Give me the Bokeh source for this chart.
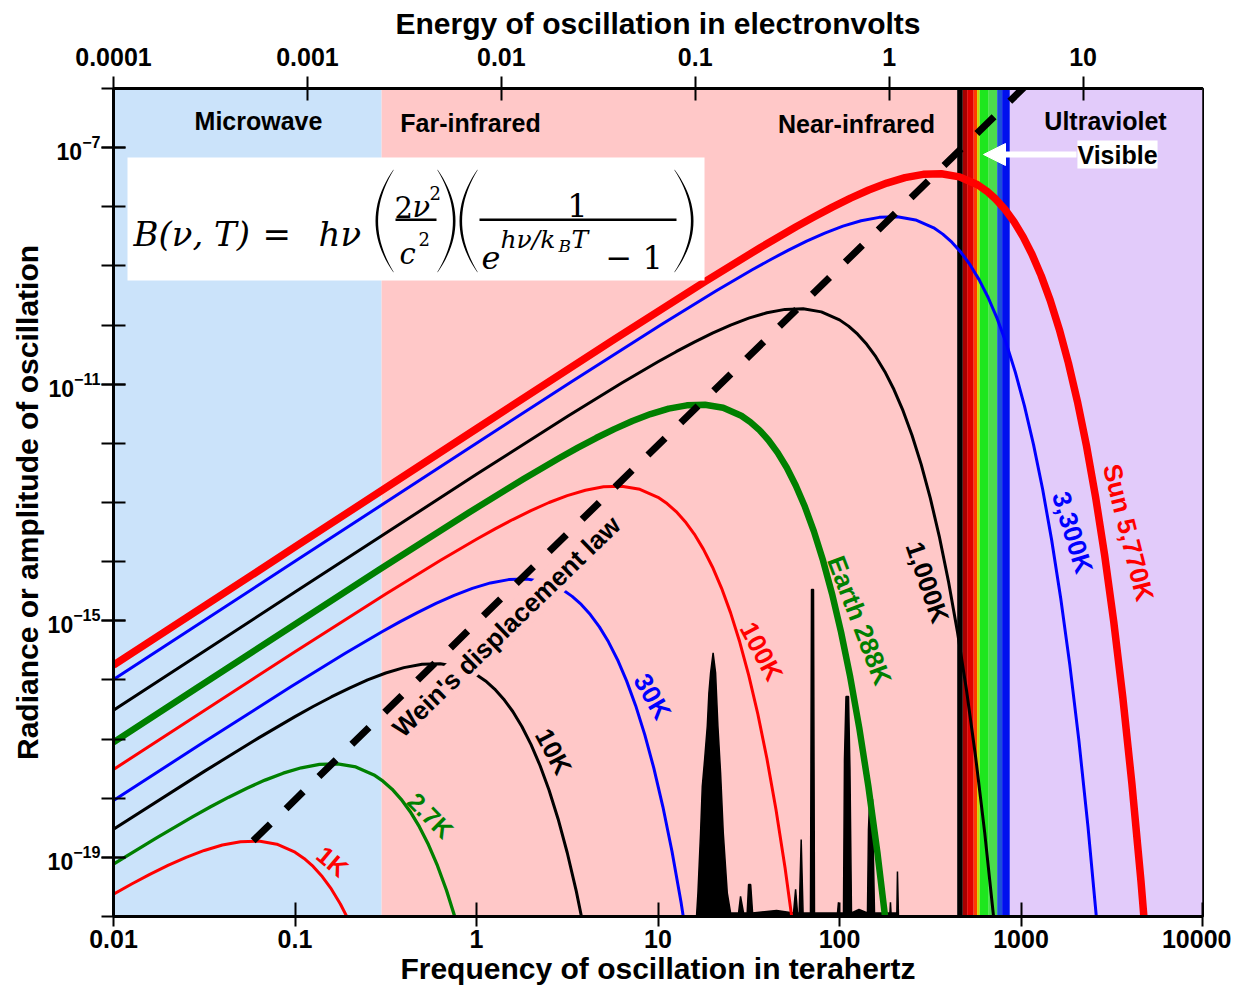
import math
from bokeh.plotting import figure
from bokeh.models import (Range1d, LogAxis, LogScale, FixedTicker, Label,
                          BoxAnnotation, Arrow, NormalHead, PolyAnnotation)
from bokeh.embed import file_html
from bokeh.resources import INLINE

# ---------------- axes ----------------
freq_range = (0.01, 10000.0)          # THz (bottom axis)
rad_range = (1e-20, 1e-6)             # radiance (left axis)
energy_range = (1e-4, 41.3)           # eV (top axis as drawn in the chart)
freq_ticks = [0.01, 0.1, 1.0, 10.0, 100.0, 1000.0, 10000.0]
freq_tick_labels = ["0.01", "0.1", "1", "10", "100", "1000", "10000"]
energy_ticks = [0.0001, 0.001, 0.01, 0.1, 1.0, 10.0]
energy_tick_labels = ["0.0001", "0.001", "0.01", "0.1", "1", "10"]
rad_ticks = [1e-19, 1e-15, 1e-11, 1e-7]
rad_minor_ticks = [1e-20, 1e-19, 1e-18, 1e-17, 1e-16, 1e-15, 1e-14, 1e-13,
                   1e-12, 1e-11, 1e-10, 1e-9, 1e-8, 1e-7, 1e-6]

# ---------------- spectral regions (THz) ----------------
band_left = [0.01, 0.3, 867.0]
band_right = [0.3, 445.0, 10000.0]
band_colors = ["#cbe3fa", "#ffc8c8", "#e2cbfa"]
visible_edges = [445.0, 478.0, 505.0, 549.0, 573.0, 592.0, 664.0, 739.0, 787.0, 867.0]
visible_colors = ["#000000", "#a80000", "#e00000", "#ff3a00", "#c8d800",
                  "#1ee61e", "#4cdc4c", "#1a50d8", "#0010ee"]

# ---------------- black-body curves: log10(freq THz), log10(radiance) ----------------
k1_logf = [-2.0, -1.9, -1.8, -1.7, -1.6, -1.5, -1.4, -1.3, -1.2, -1.1, -1.0, -0.95,
           -0.9, -0.85, -0.8, -0.75, -0.7]
k1_logB = [-19.621, -19.450, -19.288, -19.137, -19.000, -18.883, -18.792, -18.735,
           -18.725, -18.777, -18.912, -19.018, -19.154, -19.325, -19.534, -19.788, -20.090]

k2_7_logf = [-2.0, -1.765, -1.565, -1.465, -1.365, -1.265, -1.165, -1.065, -0.965, -0.865,
             -0.765, -0.665, -0.565, -0.515, -0.465, -0.415, -0.365, -0.315, -0.265,
             -0.215, -0.165, -0.115]
k2_7_logB = [-19.116, -18.674, -18.315, -18.144, -17.982, -17.831, -17.694, -17.577,
             -17.485, -17.429, -17.419, -17.471, -17.606, -17.712, -17.848, -18.019,
             -18.228, -18.481, -18.784, -19.141, -19.560, -20.049]

k10_logf = [-2.0, -1.5, -1.2, -1.0, -0.9, -0.8, -0.7, -0.6, -0.5, -0.4, -0.3, -0.2, -0.1,
            0.0, 0.05, 0.1, 0.15, 0.2, 0.25, 0.3, 0.35, 0.4, 0.45, 0.5, 0.55, 0.6]
k10_logB = [-18.523, -17.546, -16.980, -16.621, -16.450, -16.288, -16.137, -16.000,
            -15.883, -15.792, -15.735, -15.725, -15.777, -15.912, -16.018, -16.154,
            -16.325, -16.534, -16.788, -17.090, -17.447, -17.866, -18.355, -18.922,
            -19.576, -20.329]

k30_logf = [-2.0, -1.523, -1.023, -0.723, -0.523, -0.423, -0.323, -0.223, -0.123, -0.023,
            0.077, 0.177, 0.277, 0.377, 0.477, 0.527, 0.577, 0.627, 0.677, 0.727,
            0.777, 0.827, 0.877, 0.927, 0.977, 1.027, 1.077, 1.127, 1.177]
k30_logB = [-18.039, -17.092, -16.115, -15.549, -15.190, -15.019, -14.857, -14.706,
            -14.569, -14.452, -14.360, -14.304, -14.294, -14.346, -14.481, -14.587,
            -14.723, -14.894, -15.103, -15.356, -15.658, -16.016, -16.435, -16.924,
            -17.491, -18.145, -18.897, -19.760, -20.746]

k100_logf = [-2.0, -1.0, -0.5, -0.2, 0.0, 0.1, 0.2, 0.3, 0.4, 0.5, 0.6, 0.7, 0.8, 0.9,
             1.0, 1.05, 1.1, 1.15, 1.2, 1.25, 1.3, 1.35, 1.4, 1.45, 1.5, 1.55, 1.6,
             1.65, 1.7, 1.75]
k100_logB = [-17.514, -15.523, -14.546, -13.980, -13.621, -13.450, -13.288, -13.137,
             -13.000, -12.883, -12.792, -12.735, -12.725, -12.777, -12.912, -13.018,
             -13.154, -13.325, -13.534, -13.788, -14.090, -14.447, -14.866, -15.355,
             -15.922, -16.576, -17.329, -18.191, -19.177, -20.302]

k288_logf = [-2.0, -1.541, -0.541, -0.041, 0.259, 0.459, 0.559, 0.659, 0.759, 0.859,
             0.959, 1.059, 1.159, 1.259, 1.359, 1.459, 1.509, 1.559, 1.609, 1.659,
             1.709, 1.759, 1.809, 1.859, 1.909, 1.959, 2.009, 2.059, 2.109, 2.159,
             2.209, 2.259]
k288_logB = [-17.054, -16.135, -14.145, -13.168, -12.602, -12.243, -12.072, -11.910,
             -11.759, -11.622, -11.505, -11.413, -11.357, -11.347, -11.399, -11.534,
             -11.640, -11.776, -11.947, -12.156, -12.409, -12.712, -13.069, -13.488,
             -13.977, -14.544, -15.198, -15.950, -16.813, -17.799, -18.923, -20.204]

k1000_logf = [-2.0, -1.0, 0.0, 0.5, 0.8, 1.0, 1.1, 1.2, 1.3, 1.4, 1.5, 1.6, 1.7, 1.8,
              1.9, 2.0, 2.05, 2.1, 2.15, 2.2, 2.25, 2.3, 2.35, 2.4, 2.45, 2.5, 2.55,
              2.6, 2.65, 2.7, 2.75, 2.8, 2.85]
k1000_logB = [-16.513, -14.514, -12.523, -11.546, -10.980, -10.621, -10.450, -10.288,
              -10.137, -10.000, -9.883, -9.792, -9.735, -9.725, -9.777, -9.912, -10.018,
              -10.154, -10.325, -10.534, -10.788, -11.090, -11.447, -11.866, -12.355,
              -12.922, -13.576, -14.329, -15.191, -16.177, -17.302, -18.582, -20.036]

k3300_logf = [-2.0, -0.981, 0.019, 0.519, 1.019, 1.319, 1.519, 1.619, 1.719, 1.819,
              1.919, 2.019, 2.119, 2.219, 2.319, 2.419, 2.519, 2.569, 2.619, 2.669,
              2.719, 2.769, 2.819, 2.869, 2.919, 2.969, 3.019, 3.069, 3.119, 3.169,
              3.219, 3.269, 3.319, 3.369, 3.419]
k3300_logB = [-15.994, -13.957, -11.960, -10.967, -9.990, -9.424, -9.065, -8.895,
              -8.733, -8.581, -8.445, -8.327, -8.236, -8.179, -8.169, -8.222, -8.356,
              -8.462, -8.599, -8.769, -8.979, -9.232, -9.534, -9.892, -10.311, -10.800,
              -11.367, -12.021, -12.773, -13.636, -14.622, -15.746, -17.026, -18.481,
              -20.131]

sun_logf = [-2.0, -1.0, 0.0, 0.761, 1.261, 1.561, 1.761, 1.861, 1.961, 2.061, 2.161,
            2.261, 2.361, 2.461, 2.561, 2.661, 2.761, 2.811, 2.861, 2.911, 2.961,
            3.011, 3.061, 3.111, 3.161, 3.211, 3.261, 3.311, 3.361, 3.411, 3.461,
            3.511, 3.561, 3.611, 3.661, 3.711]
sun_logB = [-15.751, -13.752, -11.753, -10.239, -9.262, -8.696, -8.337, -8.167, -8.005,
            -7.853, -7.717, -7.599, -7.508, -7.451, -7.441, -7.494, -7.628, -7.734,
            -7.871, -8.041, -8.251, -8.504, -8.806, -9.164, -9.583, -10.072, -10.639,
            -11.293, -12.045, -12.908, -13.894, -15.018, -16.298, -17.753, -19.403,
            -21.273]

# Wien displacement line (through the peaks)
wien_freq = [0.0588, 1260.0]
wien_logB = [-18.72, -5.73]

# black emission spectrum at the bottom
spec_freq = [16.3, 16.6, 17.16, 17.54, 18.06, 18.69, 19.07, 19.49, 20.12, 20.76, 21.38,
             22.12, 22.89, 24.08, 25.11, 27.8, 28.5, 29.6, 31.0, 31.55, 32.4, 33.2,
             45.0, 55.8, 57.3, 58.7, 60.0, 61.5, 63.0, 69.2, 70.1, 71.9, 72.8, 97.5,
             98.7, 99.9, 105.2, 106.5, 108.6, 112.1, 114.2, 116.4, 128.0, 142.6, 144.4,
             147.2, 152.0, 153.9, 155.9, 189.5, 190.9, 192.3, 207.0, 208.6, 211.3]
spec_logB = [-20.0, -19.60, -18.59, -17.80, -17.35, -16.78, -16.22, -15.88, -15.54,
             -15.88, -16.78, -17.57, -18.59, -19.60, -19.94, -19.94, -19.66, -19.94,
             -19.94, -19.46, -19.46, -19.94, -19.90, -19.94, -19.54, -19.94, -19.94,
             -18.70, -19.94, -19.94, -14.47, -14.47, -19.94, -19.94, -19.76, -19.94,
             -19.94, -17.35, -16.28, -16.28, -17.52, -19.94, -19.88, -19.94, -18.53,
             -17.89, -18.02, -19.04, -19.94, -19.94, -19.76, -19.94, -19.94, -19.24,
             -20.0]


def pw(vals):
    return [10.0 ** v for v in vals]


FONT = "Liberation Sans"

p = figure(width=1231, height=987, x_axis_type="log", y_axis_type="log",
           x_range=Range1d(*freq_range), y_range=Range1d(*rad_range),
           output_backend="svg", toolbar_location=None,
           min_border_left=113, min_border_right=29, min_border_top=88,
           min_border_bottom=71)
p.extra_x_ranges = {"energy": Range1d(*energy_range)}
p.extra_x_scales = {"energy": LogScale()}
p.xgrid.visible = False
p.ygrid.visible = False
p.outline_line_color = "black"
p.outline_line_width = 3
p.outline_line_alpha = 1.0
p.background_fill_color = "white"
p.border_fill_color = "white"

# backgrounds
p.quad(left=band_left, right=band_right, bottom=[rad_range[0]] * 3,
       top=[rad_range[1]] * 3, fill_color=band_colors, line_color=None)
p.quad(left=visible_edges[:-1], right=visible_edges[1:],
       bottom=[rad_range[0]] * len(visible_colors), top=[rad_range[1]] * len(visible_colors),
       fill_color=visible_colors, line_color=None)

# spectrum
p.varea(x=spec_freq, y1=[rad_range[0]] * len(spec_freq), y2=pw(spec_logB),
        fill_color="black")
p.line(spec_freq, pw(spec_logB), line_color="black", line_width=1.5)

curves = [
    (k1_logf, k1_logB, "#ff0000", 3),
    (k2_7_logf, k2_7_logB, "#008000", 3.3),
    (k10_logf, k10_logB, "black", 3),
    (k30_logf, k30_logB, "#0000ff", 3),
    (k100_logf, k100_logB, "#ff0000", 3),
    (k288_logf, k288_logB, "#008000", 6.5),
    (k1000_logf, k1000_logB, "black", 3),
    (k3300_logf, k3300_logB, "#0000ff", 3),
    (sun_logf, sun_logB, "#ff0000", 7.5),
]
for lf, lb, col, w in curves:
    p.line(pw(lf), pw(lb), line_color=col, line_width=w, line_join="round")

p.line(wien_freq, pw(wien_logB), line_color="black", line_width=7, line_dash="24 22")

# ---------------- axes styling ----------------
def style_axis(ax, size):
    ax.axis_line_width = 3
    ax.axis_line_color = "black"
    ax.major_tick_line_width = 2
    ax.major_tick_line_color = "black"
    ax.major_tick_in = 12
    ax.major_tick_out = 12
    ax.major_label_text_font = FONT
    ax.major_label_text_font_style = "bold"
    ax.major_label_text_font_size = size
    ax.major_label_text_color = "black"
    ax.axis_label_text_font = FONT
    ax.axis_label_text_font_style = "bold"
    ax.axis_label_text_font_size = "30px"
    ax.axis_label_text_color = "black"


xa = p.xaxis[0]
xa.ticker = FixedTicker(ticks=freq_ticks, minor_ticks=[])
xa.major_label_overrides = {float(t): s for t, s in zip(freq_ticks, freq_tick_labels)}
xa.axis_label = "Frequency of oscillation in terahertz"
style_axis(xa, "25px")
xa.major_tick_out = 10
xa.major_tick_in = 14
xa.major_label_standoff = 3
xa.axis_label_standoff = 1
xa.minor_tick_line_color = None

ya = p.yaxis[0]
ya.ticker = FixedTicker(ticks=rad_ticks, minor_ticks=rad_minor_ticks)
ya.axis_label = "Radiance or amplitude of oscillation"
style_axis(ya, "23px")
ya.minor_tick_in = 12
ya.minor_tick_out = 12
ya.minor_tick_line_width = 2
ya.minor_tick_line_color = "black"
ya.major_label_standoff = 1
ya.axis_label_standoff = 1

top = LogAxis(x_range_name="energy",
              ticker=FixedTicker(ticks=energy_ticks, minor_ticks=[]),
              axis_label="Energy of oscillation in electronvolts")
top.major_label_overrides = {float(t): s for t, s in zip(energy_ticks, energy_tick_labels)}
style_axis(top, "25px")
top.major_label_standoff = 11
top.axis_label_standoff = 5
top.minor_tick_line_color = None
p.add_layout(top, "above")

# ---------------- annotations (pixel placement relative to the frame) ----------------
FL, FB = 113.0, 917.0


def add_text(text, X, Y, size, color="black", angle=0.0, font=FONT, style="bold",
             align="center", baseline="middle", bg=None):
    lbl = Label(x=X - FL, y=FB - Y, x_units="screen", y_units="screen", text=text,
                text_font=font, text_font_style=style, text_font_size=f"{size}px",
                text_color=color, text_align=align, text_baseline=baseline,
                angle=math.radians(angle))
    if bg is not None:
        lbl.background_fill_color = bg
        lbl.background_fill_alpha = 1.0
    p.add_layout(lbl)


def add_box(x0, y0, x1, y1, color):
    p.add_layout(BoxAnnotation(left=x0 - FL, right=x1 - FL, top=FB - y0, bottom=FB - y1,
                               left_units="screen", right_units="screen",
                               top_units="screen", bottom_units="screen",
                               fill_color=color, fill_alpha=1.0, line_color=None))


def add_paren(x_tip, x_bulge, y0, y1, thick):
    # tapered parenthesis outline (decoration of the formula)
    n = 24
    ts = [-1 + 2 * i / n for i in range(n + 1)]
    yc, hh = (y0 + y1) / 2, (y1 - y0) / 2
    d = x_bulge - x_tip
    sgn = 1 if d > 0 else -1
    outer = [(x_tip + d * (1 - t * t), yc + hh * t) for t in ts]
    inner = [(x_tip + (d - sgn * thick) * (1 - t * t), yc + hh * t * 0.985) for t in reversed(ts)]
    pts = outer + inner
    p.add_layout(PolyAnnotation(xs=[x - FL for x, _ in pts], ys=[FB - y for _, y in pts],
                                xs_units="screen", ys_units="screen",
                                fill_color="black", fill_alpha=1.0, line_color=None))


# region names
add_text("Microwave", 258, 121, 25)
add_text("Far-infrared", 470, 123, 25)
add_text("Near-infrared", 856, 124, 25)
add_text("Ultraviolet", 1105, 121, 25)
add_text("Visible", 1117, 155, 25, bg="white")
p.add_layout(Arrow(x_start=1076 - FL, y_start=FB - 155, x_end=983 - FL, y_end=FB - 155,
                   start_units="screen", end_units="screen", line_color="white",
                   line_width=6,
                   end=NormalHead(size=22, fill_color="white", line_color="white")))

# curve labels
add_text("1K", 332, 862, 25, "#ff0000", -40)
add_text("2.7K", 430, 816, 25, "#008000", -45)
add_text("10K", 553, 752, 26, "black", -62)
add_text("30K", 652, 697, 26, "#0000ff", -60)
add_text("100K", 761, 652, 26, "#ff0000", -62)
add_text("Earth 288K", 859, 621, 26, "#008000", -69)
add_text("1,000K", 927, 583, 26, "black", -71)
add_text("3,300K", 1072, 533, 26, "#0000ff", -73)
add_text("Sun 5,770K", 1128, 533, 26, "#ff0000", -76)
add_text("Wein's displacement law", 506, 627, 26, "black", 44, bg="#ffc8c8")

# formula box
add_box(127, 158, 704, 281, "white")
SERIF = "DejaVu Serif"
add_text("B(ν, T)", 133, 234, 34, font=SERIF, style="italic", align="left",
         baseline="alphabetic")
add_text("=", 262, 234, 34, font=SERIF, style="normal", align="left", baseline="alphabetic")
add_text("hν", 318, 234, 34, font=SERIF, style="italic", align="left", baseline="alphabetic")
add_paren(393, 375, 170, 273, 2.6)
add_text("2", 394, 207, 29, font=SERIF, style="normal", align="left", baseline="alphabetic")
add_text("ν", 412, 207, 29, font=SERIF, style="italic", align="left", baseline="alphabetic")
add_text("2", 429, 193, 18, font=SERIF, style="normal", align="left", baseline="alphabetic")
add_box(395, 219, 436, 221.5, "black")
add_text("c", 399, 254, 29, font=SERIF, style="italic", align="left", baseline="alphabetic")
add_text("2", 418, 239, 18, font=SERIF, style="normal", align="left", baseline="alphabetic")
add_paren(437, 455, 170, 273, 2.6)
add_paren(477, 459, 170, 273, 2.6)
add_text("1", 577, 206, 32, font=SERIF, style="normal", baseline="alphabetic")
add_box(479, 219, 676, 221.5, "black")
add_text("e", 481, 258, 32, font=SERIF, style="italic", align="left", baseline="alphabetic")
add_text("hν/k", 500, 240, 25, font=SERIF, style="italic", align="left", baseline="alphabetic")
add_text("B", 558, 246, 17, font=SERIF, style="italic", align="left", baseline="alphabetic")
add_text("T", 571, 240, 25, font=SERIF, style="italic", align="left", baseline="alphabetic")
add_text("− 1", 605, 258, 32, font=SERIF, style="normal", align="left", baseline="alphabetic")
add_paren(674, 693, 170, 273, 2.6)

open("out.html", "w").write(file_html(p, INLINE))
